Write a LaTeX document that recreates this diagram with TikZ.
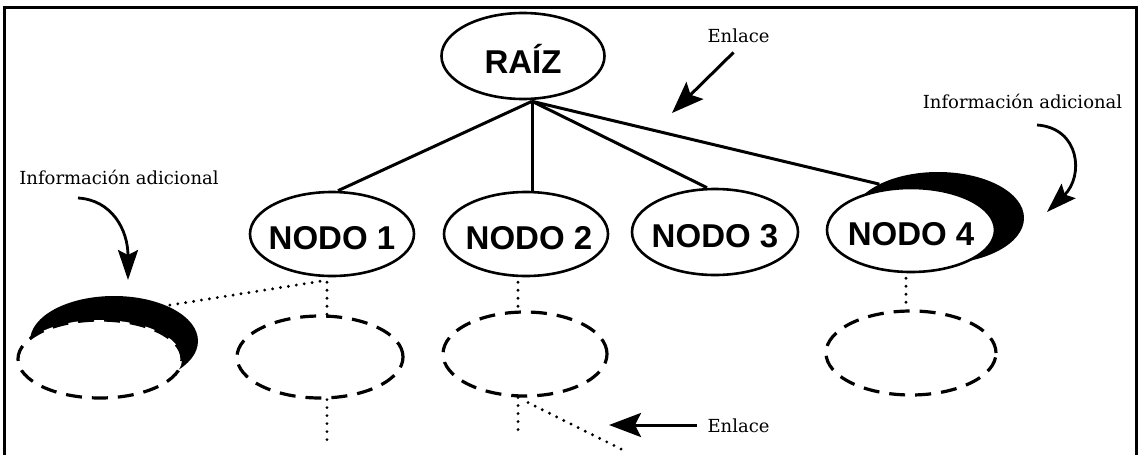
\documentclass[tikz,border=0pt]{standalone}
\usepackage{fontspec}
\setmainfont{DejaVu Serif}
\newfontfamily\nodefont{Liberation Sans}
\usetikzlibrary{shapes.geometric,arrows.meta,calc}
\begin{document}
\begin{tikzpicture}[x=1pt,y=-1pt,
  solidnode/.style={ellipse, draw, line width=2.6pt, fill=white, inner sep=0pt},
  shadownode/.style={ellipse, fill=black, inner sep=0pt},
  dashnode/.style={ellipse, draw, line width=3.2pt, dash pattern=on 16pt off 10pt, fill=white, inner sep=0pt},
  link/.style={line width=3pt},
  dotlink/.style={line width=3.2pt, line cap=round, dash pattern=on 0pt off 8pt},
  lbl/.style={font=\fontsize{18}{21}\selectfont, anchor=base, inner sep=0pt},
  nlabel/.style={font=\nodefont\bfseries\fontsize{33}{38}\selectfont, inner sep=0pt},
  bigarrow/.style={line width=3pt, -{Stealth[length=32pt,width=24pt,inset=6pt]}},
  curvearrow/.style={line width=2.8pt, -{Stealth[length=30pt,width=20pt,inset=5pt]}},
]
\useasboundingbox (0,0) rectangle (1142,455);
% frame
\draw[line width=3pt] (4,455) -- (4,7) -- (1136,7) -- (1136,455);

% solid nodes
\node[solidnode, minimum width=163pt, minimum height=86pt,
      label={[nlabel,yshift=-3pt]center:RAÍZ}] (root) at (523,56) {};
\node[solidnode, minimum width=164pt, minimum height=84pt,
      label={[nlabel,yshift=-4pt]center:NODO 1}] (n1) at (332,234) {};
\node[solidnode, minimum width=164pt, minimum height=84pt,
      label={[nlabel,yshift=-4pt,xshift=3pt]center:NODO 2}] (n2) at (526,234) {};
\node[solidnode, minimum width=166pt, minimum height=86pt,
      label={[nlabel,yshift=-4pt]center:NODO 3}] (n3) at (715,232) {};
\node[shadownode, minimum width=172pt, minimum height=92pt] (s4) at (938,218) {};
\node[solidnode, minimum width=168pt, minimum height=84pt,
      label={[nlabel,yshift=-4pt]center:NODO 4}] (n4) at (911,230) {};

% dashed nodes
\node[shadownode, minimum width=168pt, minimum height=90pt] (sL) at (114,341) {};
\node[dashnode, minimum width=164pt, minimum height=78pt] (dL) at (100,359) {};
\node[dashnode, minimum width=166pt, minimum height=82pt] (d1) at (320,357) {};
\node[dashnode, minimum width=164pt, minimum height=84pt] (d2) at (525,354) {};
\node[dashnode, minimum width=170pt, minimum height=84pt] (d4) at (911,353) {};

% solid links
\coordinate (rj) at ($(root.south)+(9,1)$);
\draw[link] (rj) -- ($(n1.north)+(6,0)$);
\draw[link] (rj) -- (rj |- n2.north);
\draw[link] (rj) -- ($(n3.north)+(-8,0)$);
\draw[link] (rj) -- (s4.150);

% dotted links
\coordinate (n1b) at ($(n1.south)+(-5,5)$);
\draw[dotlink] (n1b) -- (n1b |- d1.north);
\draw[dotlink] ($(n1.south)+(-12,4)$) -- (sL.34);
\coordinate (e1) at (327,442);
\draw[dotlink] (e1 |- d1.south) -- (e1);
\coordinate (n2b) at ($(n2.south)+(-8,5)$);
\draw[dotlink] (n2b) -- (n2b |- d2.north);
\coordinate (e2) at (518,431);
\draw[dotlink] (e2 |- d2.south) -- (e2);
\coordinate (e3) at (627,452);
\draw[dotlink] ($(d2.south)+(3,5)$) -- (e3);
\coordinate (n4b) at ($(n4.south)+(-5,5)$);
\draw[dotlink] (n4b) -- (n4b |- d4.north);

% labels and arrows
\node[lbl] (enl1) at (738.5,42) {Enlace};
\coordinate (a1s) at ($(enl1.south)+(-5,10)$);
\coordinate (a1e) at (672,113);
\draw[bigarrow] (a1s) -- (a1e);

\node[lbl] (enl2) at (738.5,432) {Enlace};
\coordinate (a2s) at (697,425);
\coordinate (a2e) at (609,425);
\draw[bigarrow] (a2s) -- (a2e);

\node[lbl] (inf2) at (1022.5,108) {Información adicional};
\coordinate (c2s) at (1037,125);
\coordinate (c2e) at (1047,212);
\draw[curvearrow] (c2s) .. controls (1080,128) and (1084,176) .. (c2e);

\node[lbl] (inf1) at (119,184) {Información adicional};
\coordinate (c1s) at (78,198);
\coordinate (c1e) at (128,280);
\draw[curvearrow] (c1s) .. controls (112,200) and (128,230) .. (c1e);
\end{tikzpicture}
\end{document}
